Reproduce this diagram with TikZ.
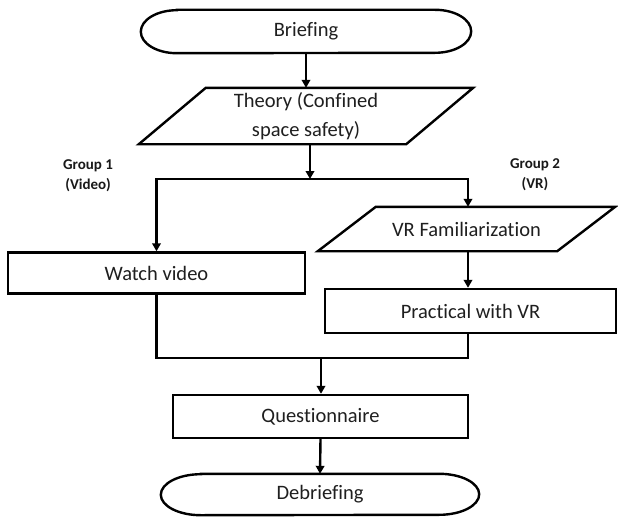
\documentclass[tikz,border=0pt]{standalone}
\usepackage{fontspec}
\setmainfont{Carlito}[Ligatures={NoCommon,NoRare}]
\usetikzlibrary{arrows.meta,calc}

\tikzset{
  line/.style={line width=2.4pt, draw=black},
  arr/.style={line, -{Triangle[length=8pt,width=8.5pt]}},
  lbl/.style={text=black!88, font=\fontsize{20.5}{29}\selectfont, align=center, inner sep=0pt},
  box/.style={lbl, line, minimum width=#1},
  shell/.style={lbl, minimum width=#1},
  grp/.style={text=black!90, font=\bfseries\fontsize{15}{20}\selectfont, align=center, inner sep=0pt},
}

% outline of a terminator: straight top and bottom, half-elliptical ends
% #1 node, #2 horizontal radius of the ends, #3 half the node height
\newcommand{\terminal}[3]{%
  \draw[line] ([xshift=#2]#1.north west) -- ([xshift=-#2]#1.north east)
    arc[start angle=90, end angle=-90, x radius=#2, y radius=#3]
    -- ([xshift=#2]#1.south west)
    arc[start angle=270, end angle=90, x radius=#2, y radius=#3]
    -- cycle;}
% outline of an input/output parallelogram leaning to the right
\newcommand{\slanted}[2]{%
  \draw[line] ([xshift=#2]#1.north west) -- (#1.north east)
    -- ([xshift=-#2]#1.south east) -- (#1.south west) -- cycle;}

\begin{document}
\begin{tikzpicture}[x=1pt, y=-1pt]
\useasboundingbox (0,0) rectangle (618,519);
\fill[white] (0,0) rectangle (618,519);

% process steps
\node[shell=330pt, minimum height=43pt] (brief) at (306,31.5) {Briefing};
\node[shell=334pt, minimum height=56pt] (theory) at (306,116) {Theory (Confined\\space safety)};
\node[box=297pt, minimum height=41pt] (watch) at (156.5,273) {Watch video};
\node[shell=297pt, minimum height=44pt] (vrfam) at (466.5,229) {VR Familiarization};
\node[box=291pt, minimum height=44pt] (prac) at (470.5,311) {Practical with VR};
\node[box=295pt, minimum height=43pt] (quest) at (320.5,416.5) {Questionnaire};
\node[shell=318pt, minimum height=41pt] (debrief) at (320,494.5) {Debriefing};

% group captions
\node[grp] (g1) at (88,176) {Group 1\\(Video)};
\node[grp] (g2) at (535,175) {Group 2\\(VR)};

% outlines of the non-rectangular shapes
\terminal{brief}{36pt}{21.5pt}
\terminal{debrief}{40pt}{20.5pt}
\slanted{theory}{67pt}
\slanted{vrfam}{58pt}

% split and merge points
\coordinate (split) at (310,179);
\coordinate (merge) at (321,358);
\coordinate (pracfoot) at ([xshift=-2.5pt]prac.south);

% connectors
\draw[arr] (brief.south) -- (theory.north);
\draw[arr] (theory.south -| split) -- (split);
\draw[arr] (split) -| (watch.north);
\draw[arr] (split) -| ([xshift=1.5pt]vrfam.north);
\draw[arr] ([xshift=1.5pt]vrfam.south) -- (pracfoot |- prac.north);
\draw[line] (watch.south) |- (merge -| pracfoot) -- (pracfoot);
\draw[arr] (merge) -- (merge |- quest.north);
\draw[arr] (quest.south) -- (debrief.north);
\end{tikzpicture}
\end{document}
